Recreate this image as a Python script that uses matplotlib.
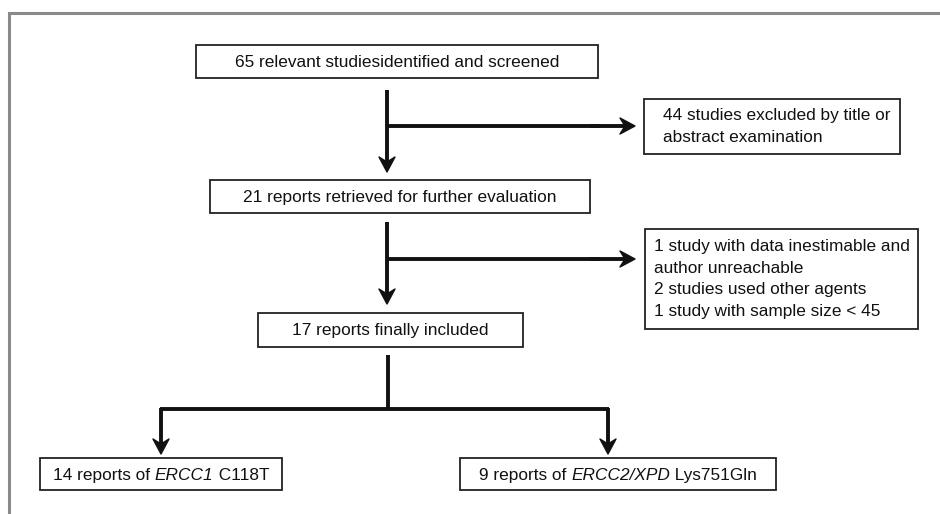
# 文献筛选流程图（flow chart）
import matplotlib.pyplot as plt
from matplotlib.patches import Rectangle, Polygon

plt.rcParams['font.family'] = ['Liberation Sans', 'DejaVu Sans']

# 流程各步骤文字
main_steps = [
    '65 relevant studiesidentified and screened',
    '21 reports retrieved for further evaluation',
    '17 reports finally included',
]
excluded = [
    ['44 studies excluded by title or', 'abstract examination'],
    ['1 study with data inestimable and', 'author unreachable',
     '2 studies used other agents', '1 study with sample size < 45'],
]
# (文字, 是否斜体)
final_groups = [
    [('14 reports of ', False), ('ERCC1', True), (' C118T', False)],
    [('9 reports of ', False), ('ERCC2/XPD', True), (' Lys751Gln', False)],
]

# 布局（像素坐标）
main_boxes = [(196, 45, 598, 78), (210, 180, 590, 213), (258, 313, 523, 347)]
excl_boxes = [(644, 99, 900, 154), (645, 229, 918, 329)]
excl_pad = [19, 9]
final_boxes = [(40, 458, 282, 490), (460, 458, 776, 490)]

FS = 12.4
INK = '#111111'
LW = 2.8


def box(ax, b):
    x0, y0, x1, y1 = b
    ax.add_patch(Rectangle((x0, y0), x1 - x0, y1 - y0, fill=False,
                           lw=1.3, edgecolor='#222222'))


def line(ax, xs, ys):
    ax.plot(xs, ys, color=INK, lw=LW, solid_capstyle='butt')


def arrow(ax, p0, p1):
    # 粗箭头：直线 + 带缺口的实心箭头
    (x0, y0), (x1, y1) = p0, p1
    dx, dy = x1 - x0, y1 - y0
    n = (dx ** 2 + dy ** 2) ** 0.5
    ux, uy = dx / n, dy / n
    px, py = -uy, ux
    head = [(0, 0), (-15, 8), (-10, 0), (-15, -8)]
    pts = [(x1 + a * ux + b * px, y1 + a * uy + b * py) for a, b in head]
    line(ax, [x0, x1 - 9 * ux], [y0, y1 - 9 * uy])
    ax.add_patch(Polygon(pts, closed=True, facecolor=INK, edgecolor=INK,
                         lw=1.0, joinstyle='round'))


fig = plt.figure(figsize=(9.4, 5.14), dpi=100)
ax = fig.add_axes([0, 0, 1, 1])
ax.set_xlim(0, 940)
ax.set_ylim(514, 0)
ax.axis('off')

# 外框
ax.plot([9, 9, 940], [514, 13, 13], color='#8a8a8a', lw=2.2, solid_joinstyle='miter')

for b, t in zip(main_boxes, main_steps):
    box(ax, b)
    ax.text((b[0] + b[2]) / 2, (b[1] + b[3]) / 2 + 1, t, ha='center', va='center',
            fontsize=FS, color=INK)

for b, lines, pad in zip(excl_boxes, excluded, excl_pad):
    box(ax, b)
    n = len(lines)
    step = 21.5
    y0 = (b[1] + b[3]) / 2 - step * (n - 1) / 2
    for i, t in enumerate(lines):
        ax.text(b[0] + pad, y0 + i * step, t, ha='left', va='center',
                fontsize=FS, color=INK)

renderer = fig.canvas.get_renderer()
for b, parts in zip(final_boxes, final_groups):
    box(ax, b)
    yb = (b[1] + b[3]) / 2 + 6
    texts = [ax.text(0, yb, s, ha='left', va='baseline', fontsize=FS, color=INK,
                     style='italic' if it else 'normal') for s, it in parts]
    widths = [t.get_window_extent(renderer).width for t in texts]
    x = (b[0] + b[2]) / 2 - sum(widths) / 2
    for t, w in zip(texts, widths):
        t.set_x(x)
        x += w

# 箭头
arrow(ax, (387, 90), (387, 172))
line(ax, [387, 600], [126, 126])
arrow(ax, (590, 126), (635, 126))

arrow(ax, (387, 222), (387, 304))
line(ax, [387, 600], [259, 259])
arrow(ax, (590, 259), (635, 259))

line(ax, [388, 388], [355, 409])
line(ax, [160, 609.4], [409, 409])
arrow(ax, (161, 408), (161, 454))
arrow(ax, (608, 408), (608, 454))

fig.savefig('out.png', dpi=100)
